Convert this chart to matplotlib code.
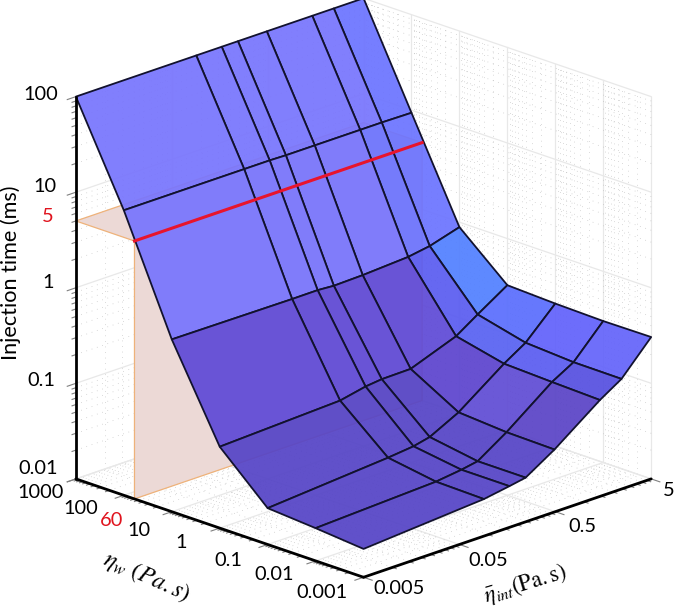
import numpy as np
import matplotlib
matplotlib.use('Agg')
import matplotlib.pyplot as plt
from mpl_toolkits.mplot3d.art3d import Poly3DCollection

plt.rcParams['font.family'] = ['Lato', 'DejaVu Sans']
plt.rcParams['font.size'] = 14.4

# surface values
eta_int = [0.005, 0.09, 0.166, 0.245, 0.49, 1.46, 2.45, 5]
eta_w = [0.001, 0.01, 0.1, 1, 10, 100, 1000]
t_001 = [0.0198, 0.0244, 0.027, 0.029, 0.045, 0.102, 0.142, 0.305]
t_01 = [0.022, 0.025, 0.027, 0.029, 0.046, 0.106, 0.143, 0.302]
t_1 = [0.024, 0.030, 0.032, 0.035, 0.050, 0.111, 0.154, 0.31]
t1 = [0.071, 0.080, 0.091, 0.095, 0.096, 0.145, 0.205, 0.325]
t10 = [0.635, 0.623, 0.625, 0.608, 0.619, 0.66, 0.718, 0.887]
t100 = [9.6, 9.6, 9.6, 9.5, 9.5, 9.5, 9.5, 9.4]
t1000 = [100, 100, 100, 100, 100, 100, 100, 100]

# the picked operating point
eta_w_pick = 60
t_pick = 5

# tick values
z_ticks = [0.01, 0.1, 1, 10, 100]
w_ticks = [0.001, 0.01, 0.1, 1, 10, 100, 1000]
int_ticks = [0.005, 0.05, 0.5, 5]
z_labels = ['0.01', '0.1', '1', '10', '100']
w_labels = ['0.001', '0.01', '0.1', '1', '10', '100', '1000']
int_labels = ['0.005', '0.05', '0.5', '5']

# label centres in pixels of the image
z_label_right = [(58, 469), (55, 380), (54, 282), (56, 187), (58, 95)]
w_label_pos = [(322, 592), (274, 574), (228, 560), (181, 542), (139, 530), (81, 509), (41, 492)]
int_label_pos = [(399, 589), (488, 560), (582, 527), (669, 490)]

W, H = 677, 611
fig = plt.figure(figsize=(W / 100, H / 100), dpi=100)
S = 684
ax = fig.add_axes([12.3 / W, -28 / H, S / W, S / H], projection='3d', computed_zorder=False)
ax.set_proj_type('ortho')
ax.view_init(elev=20, azim=-135)
ax.set_box_aspect((1, 1, 1), zoom=1)
ax.set_axis_off()

xa, xb = np.log10(0.005), np.log10(5)
ya, yb = -3, 3
za, zb = -2, 2
ax.set_xlim(xa, xb, view_margin=0)
ax.set_ylim(ya, yb, view_margin=0)
ax.set_zlim(za, zb, view_margin=0)

major = '#e8e8e8'
minor = '#b8b8b8'
dots = (0, (1, 7))


def line(xs, ys, zs, **kw):
    ax.plot(xs, ys, zs, **kw)


# grids on the two back walls and the floor
major_kw = dict(color=major, lw=0.9, zorder=1)
minor_kw = dict(color=minor, lw=0.5, ls=dots, zorder=1)
x_major = np.log10(int_ticks)
y_major = np.log10(w_ticks)
z_major = np.log10(z_ticks)
m = np.log10(np.arange(2, 10))
x_minor = np.concatenate([x + m for x in x_major[:-1]])
y_minor = np.concatenate([y + m for y in y_major[:-1]])
z_minor = np.concatenate([z + m for z in z_major[:-1]])

for xs, kw in [(x_major, major_kw), (x_minor, minor_kw)]:
    for x in xs:
        line([x, x], [yb, yb], [za, zb], **kw)
        line([x, x], [ya, yb], [za, za], **kw)
for ys, kw in [(y_major, major_kw), (y_minor, minor_kw)]:
    for y in ys:
        line([xb, xb], [y, y], [za, zb], **kw)
        line([xa, xb], [y, y], [za, za], **kw)
for zs, kw in [(z_major, major_kw), (z_minor, minor_kw)]:
    for z in zs:
        line([xa, xb], [yb, yb], [z, z], **kw)
        line([xb, xb], [ya, yb], [z, z], **kw)

# ticks
tick_kw = dict(color='#808080', lw=0.8, zorder=2)
for z in z_major:
    line([xa, xa - 0.09], [yb, yb], [z, z], **tick_kw)
for z in z_minor:
    line([xa, xa - 0.04], [yb, yb], [z, z], **tick_kw)
for y in y_major:
    line([xa, xa - 0.09], [y, y], [za, za], **tick_kw)
for y in y_minor:
    line([xa, xa - 0.04], [y, y], [za, za], **tick_kw)
for x in x_major:
    line([x, x], [ya, ya - 0.18], [za, za], **tick_kw)
for x in x_minor:
    line([x, x], [ya, ya - 0.08], [za, za], **tick_kw)

# pink planes through the picked point
yp = np.log10(eta_w_pick)
zp = np.log10(t_pick)
orange = '#eeb27a'
pink = '#ecd9d6'
plane = Poly3DCollection([[(xa, yp, za), (xb, yp, za), (xb, yp, zp), (xa, yp, zp)],
                          [(xa, yb, zp), (xb, yb, zp), (xb, yp, zp), (xa, yp, zp)]],
                         facecolor=pink, edgecolor=orange, linewidth=0.9, zorder=3)
ax.add_collection3d(plane)

# surface, one colour per cell
t_rows = [t_001, t_01, t_1, t1, t10, t100, t1000]
X, Y = np.meshgrid(np.log10(eta_int), np.log10(eta_w))
Z = np.log10(np.array(t_rows))

light = '#7875fd'
lighter = '#6c74ff'
dark = '#5f4ad6'
low = '#5544c6'
cells = [
    [low, low, low, low, '#5a44c6', '#5650e0', '#6464fa'],
    [low, low, low, low, '#604cd4', '#5a5cf0', '#6262fb'],
    [low, low, low, low, '#5c44ce', '#5862f2', '#5a6efd'],
    [dark, dark, dark, dark, dark, '#5a5cf0', '#5280ff'],
    [light, light, light, light, light, lighter, lighter],
    [light, light, light, light, light, light, lighter],
]
face = np.array([[matplotlib.colors.to_rgba(c, 0.93) for c in row] for row in cells])
ax.plot_surface(X, Y, Z, facecolors=face, rstride=1, cstride=1, shade=False,
                edgecolor='#12122e', linewidth=1.3, zorder=4)

# picked line on top of the surface
line([xa, xb], [yp, yp], [zp, zp], color='#e8142c', lw=2.2, zorder=5)

# box edges
edge_kw = dict(color='black', lw=2, zorder=6, solid_capstyle='round')
line([xa, xa], [yb, yb], [za, zb], **edge_kw)
line([xa, xa], [ya, yb], [za, za], **edge_kw)
line([xa, xb], [ya, ya], [za, za], **edge_kw)


def label(px, py, s, **kw):
    fig.text(px / W, 1 - py / H, s, **kw)


for (px, py), s in zip(z_label_right, z_labels):
    label(px, py, s, ha='right', va='center')
for (px, py), s in zip(w_label_pos, w_labels):
    label(px, py, s, ha='center', va='center')
for (px, py), s in zip(int_label_pos, int_labels):
    label(px, py, s, ha='center', va='center')
label(53, 216, '5', ha='right', va='center', color='#e0141e')
label(112, 521, '60', ha='center', va='center', color='#e0141e')
label(11, 273, 'Injection time (ms)', rotation=90, ha='center', va='center', fontsize=15.6)
label(147, 577, r'$\eta_w\ (Pa.s)$', rotation=-24, ha='center', va='center',
      math_fontfamily='stix', fontsize=17.5)
label(525, 584, r'$\bar{\eta}_{int}(\mathrm{Pa.s})$', rotation=17, ha='center', va='center',
      math_fontfamily='stix', fontsize=16.5)

fig.savefig('out.png', dpi=100)
